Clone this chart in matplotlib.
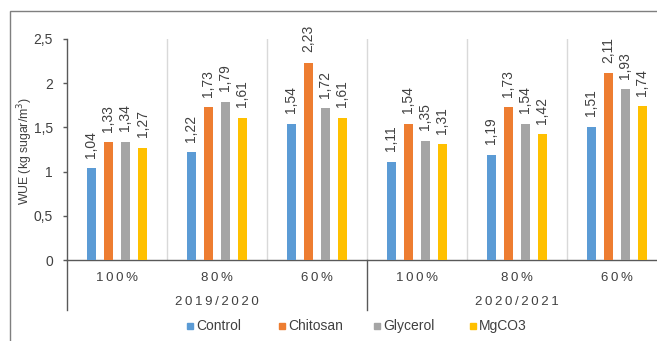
import matplotlib
matplotlib.use("Agg")
import matplotlib.pyplot as plt
from matplotlib.lines import Line2D
from matplotlib.patches import Rectangle
import numpy as np

plt.rcParams['font.family'] = ['Liberation Sans', 'DejaVu Sans']

seasons = ["2019/2020", "2020/2021"]
levels = ["100%", "80%", "60%"]
series = ["Control", "Chitosan", "Glycerol", "MgCO3"]
control = [1.04, 1.22, 1.54, 1.11, 1.19, 1.51]
chitosan = [1.33, 1.73, 2.23, 1.54, 1.73, 2.11]
glycerol = [1.34, 1.79, 1.72, 1.35, 1.54, 1.93]
mgco3 = [1.27, 1.61, 1.61, 1.31, 1.42, 1.74]
colors = ["#5B9BD5", "#ED7D31", "#A5A5A5", "#FFC000"]
yticks = [0, 0.5, 1, 1.5, 2, 2.5]

W, H = 657, 341
fig = plt.figure(figsize=(W / 100, H / 100), dpi=100)
ax = fig.add_axes([67 / W, 1 - 260 / H, 600 / W, 221 / H])

data = [control, chitosan, glycerol, mgco3]
n = len(control)
centers = np.arange(n) + 0.5
pitch = 0.17
bw = 0.095
for k, (name, vals, c) in enumerate(zip(series, data, colors)):
    xs = centers + (k - 1.5) * pitch
    ax.bar(xs, vals, width=bw, color=c, zorder=3)
    for x, v in zip(xs, vals):
        ax.annotate(f"{v:.2f}".replace(".", ","), (x, v), xytext=(0, 7.5),
                    textcoords="offset points", rotation=90, ha="center",
                    va="bottom", fontsize=10, color="#404040")

ax.set_xlim(0, n)
ax.set_ylim(0, 2.5)
ax.set_yticks(yticks)
ax.set_yticklabels([f"{t:g}".replace(".", ",") for t in yticks], fontsize=10,
                   color="#404040")
ax.tick_params(axis="y", length=3, width=1, color="#595959", pad=7)
ax.set_xticks([])
for s in ["top", "right"]:
    ax.spines[s].set_visible(False)
for s in ["left", "bottom"]:
    ax.spines[s].set_color("#595959")
    ax.spines[s].set_linewidth(1)

for g in range(1, n):
    ax.axvline(g, color="#D9D9D9", lw=1, zorder=1)

fig.text(25 / W, 1 - 151 / H, "WUE (kg sugar/m$^3$)", rotation=90,
         ha="center", va="center", fontsize=8.8, color="#404040")

trans = ax.get_xaxis_transform()
low = -50 / 221
ax.add_line(Line2D([0, 0], [0, low], transform=trans, color="#595959", lw=1, clip_on=False))
ax.add_line(Line2D([3, 3], [0, low], transform=trans, color="#595959", lw=1, clip_on=False))

ts = "\u2009"
for i in range(n):
    lab = levels[i % 3]
    ax.text(centers[i], -18 / 221, ts.join(lab), transform=trans, ha="center",
            va="center", fontsize=9.5, color="#404040")
for j, s in enumerate(seasons):
    ax.text(1.5 + 3 * j, -42 / 221, ts.join(s), transform=trans, ha="center",
            va="center", fontsize=9.5, color="#404040")

# legend entries placed manually
leg_x = [190, 282, 377, 473]
leg_y = 1 - 326 / H
for name, c, lx in zip(series, colors, leg_x):
    fig.add_artist(Line2D([lx / W], [leg_y], marker="s", linestyle="none",
                          color=c, markersize=4.5, transform=fig.transFigure))
    fig.text((lx + 6) / W, leg_y, name, ha="left", va="center",
             fontsize=10, color="#404040")

fig.patches.append(Rectangle((10 / W, -0.2), 1.2, (H - 11) / H + 0.2,
                             transform=fig.transFigure, fill=False,
                             edgecolor="#7F7F7F", lw=1))

fig.savefig("out.png", dpi=100)
